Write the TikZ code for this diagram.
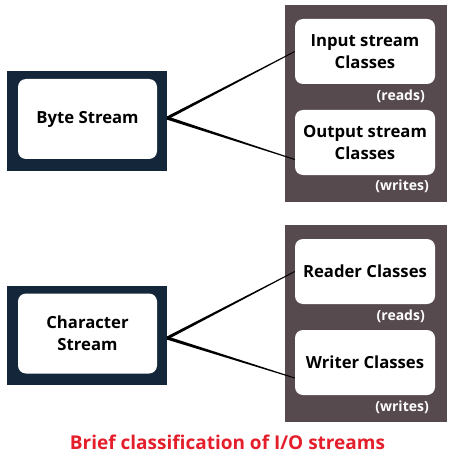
\documentclass[tikz,border=0pt]{standalone}
\usepackage{fontspec}
\setmainfont{Open Sans}
\usetikzlibrary{calc}
\definecolor{navy}{HTML}{13263A}
\definecolor{panelgray}{HTML}{574A4F}
\definecolor{titlered}{HTML}{E41E2B}
\newcommand\taper[2]{\fill ($(#1)+(0,-1.7)$) -- ($(#2)+(0,-0.5)$) -- ($(#2)+(0,0.5)$) -- ($(#1)+(0,1.7)$) -- cycle;}
\begin{document}
\begin{tikzpicture}[x=1pt,y=-1pt,
  outerbox/.style={fill=navy, minimum width=160pt, minimum height=99pt, inner sep=0pt},
  innerbox/.style={fill=white, rounded corners=8pt, minimum width=139pt, minimum height=80pt, inner sep=0pt, align=center, font=\bfseries\fontsize{16.7}{22}\selectfont},
  panelbox/.style={fill=panelgray, minimum width=162pt, minimum height=197pt, inner sep=0pt},
  classbox/.style={fill=white, rounded corners=8pt, minimum width=140pt, minimum height=65pt, inner sep=0pt, align=center, font=\bfseries\fontsize{16.7}{22}\selectfont},
  tag/.style={text=white, anchor=east, inner sep=0pt, font=\bfseries\fontsize{14}{15}\selectfont},
  titletext/.style={text=titlered, inner sep=0pt, font=\bfseries\fontsize{19}{22}\selectfont}]
\useasboundingbox (0,0) rectangle (452,457);
% Byte stream group
\node[outerbox] (byteframe) at (87,121) {};
\node[innerbox] (byte) at (87.5,119) {Byte Stream};
\node[panelbox] (toppanel) at (366,103.5) {};
\node[classbox] (input) at (365,51.5) {Input stream\\Classes};
\node[classbox] (output) at (365,142.5) {Output stream\\Classes};
\node[tag] (reads1) at (425,96) {(reads)};
\node[tag] (writes1) at (429,186) {(writes)};
% Character stream group
\node[outerbox] (charframe) at (87,335.5) {};
\node[innerbox] (char) at (87.5,333.5) {Character\\Stream};
\node[panelbox] (botpanel) at (366,323.5) {};
\node[classbox] (reader) at (365,271.5) {Reader Classes};
\node[classbox] (writer) at (365,362.5) {Writer Classes};
\node[tag] (reads2) at (425,316) {(reads)};
\node[tag] (writes2) at (429,407) {(writes)};
% title
\node[titletext] (title) at (227.5,442) {Brief classification of I/O streams};
% connectors
\coordinate (bapex) at ($(byteframe.east)+(0,-3)$);
\coordinate (capex) at ($(charframe.east)+(0,2.5)$);
\coordinate (outend) at ($(output.west)+(0,17)$);
\coordinate (wrend) at ($(writer.west)+(0,15.5)$);
\taper{bapex}{input.west}
\taper{bapex}{outend}
\taper{capex}{reader.west}
\taper{capex}{wrend}
\end{tikzpicture}
\end{document}
